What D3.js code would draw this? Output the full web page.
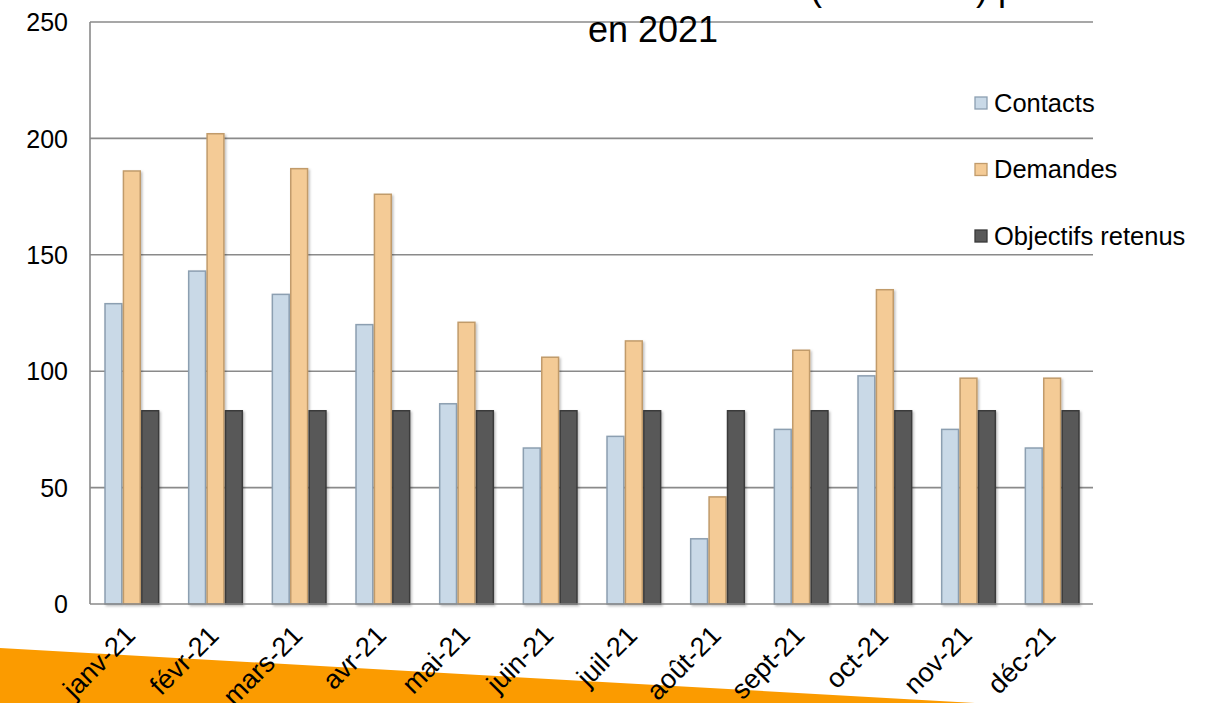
<!DOCTYPE html>
<html><head><meta charset="utf-8">
<script src="https://cdn.jsdelivr.net/npm/d3@7/dist/d3.min.js"></script>
<style>
html,body{margin:0;padding:0;background:#fff;}
svg{display:block;font-family:Arial,"Liberation Sans",sans-serif;}
</style></head>
<body>
<svg id="chart" width="1218" height="703"></svg>
<script>
const months = ["janv-21","févr-21","mars-21","avr-21","mai-21","juin-21","juil-21","août-21","sept-21","oct-21","nov-21","déc-21"];
const seriesNames = ["Contacts","Demandes","Objectifs retenus"];
const contacts = [129,143,133,120,86,67,72,28,75,98,75,67];
const demandes = [186,202,187,176,121,106,113,46,109,135,97,97];
const objectifs = [83,83,83,83,83,83,83,83,83,83,83,83];
const yTicks = [0,50,100,150,200,250];
const titleStart = "Evolution des contacts et demandes ";
const titleEnd = "(mensuels) par mois";
const titleLine2 = "en 2021";

const fills = ["#c9d9e7","#f4cb96","#595959"];
const strokes = ["#8c9fb1","#c19b6b","#3a3a3a"];

const svg = d3.select("#chart");
const defs = svg.append("defs");
const f = defs.append("filter").attr("id","sh").attr("x","-20%").attr("y","-5%").attr("width","150%").attr("height","115%");
f.append("feDropShadow").attr("dx",1.5).attr("dy",1.5).attr("stdDeviation",1.2).attr("flood-color","#000").attr("flood-opacity",0.25);

// orange decorative band
svg.append("path")
  .attr("d","M0,648 L975,703 L0,703 Z")
  .attr("fill","#fb9b00");

const L = 90, R = 1094, T = 22, B = 604;
const x = d3.scaleBand().domain(months).range([L,R]).paddingInner(0.34).paddingOuter(0.17);
const xi = d3.scaleBand().domain(seriesNames).range([0,x.bandwidth()]).padding(0);
const y = d3.scaleLinear().domain([0,250]).range([B,T]);

// gridlines
svg.append("g").selectAll("line").data(yTicks.filter(d=>d>0)).join("line")
  .attr("x1",L).attr("x2",R-1).attr("y1",d=>y(d)).attr("y2",d=>y(d))
  .attr("stroke","#8a8a8a").attr("stroke-width",1.6);

// y axis labels
const yAxis = d3.axisLeft(y).tickValues(yTicks).tickSize(0).tickPadding(22);
const ga = svg.append("g").attr("transform",`translate(${L},0)`).call(yAxis);
ga.select(".domain").remove();
ga.selectAll("text").attr("font-size",25).attr("fill","#000").attr("font-family","Arial, 'Liberation Sans', sans-serif").attr("dy","0.35em");

// bars
const data = months.map((m,i)=>({m, vals:[contacts[i],demandes[i],objectifs[i]]}));
const groups = svg.append("g").selectAll("g").data(data).join("g")
  .attr("transform",d=>`translate(${x(d.m)},0)`);
groups.selectAll("rect").data(d=>d.vals.map((v,k)=>({k,v}))).join("rect")
  .attr("x",d=>xi(seriesNames[d.k])+0.8)
  .attr("width",xi.bandwidth()-1.6)
  .attr("y",d=>y(d.v))
  .attr("height",d=>B-y(d.v))
  .attr("fill",d=>fills[d.k]).attr("stroke",d=>strokes[d.k]).attr("stroke-width",1.5)
  .attr("filter","url(#sh)");

// axis lines
svg.append("line").attr("x1",L).attr("x2",L).attr("y1",T).attr("y2",B).attr("stroke","#8a8a8a").attr("stroke-width",1.6);
svg.append("line").attr("x1",L).attr("x2",R-1).attr("y1",B).attr("y2",B).attr("stroke","#8a8a8a").attr("stroke-width",1.6);

// x labels
svg.append("g").selectAll("text").data(months).join("text")
  .attr("transform",d=>`translate(${x(d)+x.bandwidth()/2+5},637) rotate(-45)`)
  .attr("text-anchor","end").attr("font-size",27).attr("fill","#000")
  .text(d=>d);

// title (first line clipped at top edge)
svg.append("text").attr("x",810).attr("y",0).attr("text-anchor","end").attr("font-size",36).attr("fill","#000").text(titleStart);
svg.append("text").attr("x",810).attr("y",0).attr("text-anchor","start").attr("font-size",36).attr("fill","#000").text(titleEnd);
svg.append("text").attr("x",653).attr("y",42).attr("text-anchor","middle").attr("font-size",36).attr("fill","#000").text(titleLine2);

// legend
const lg = svg.append("g").selectAll("g").data(seriesNames).join("g")
  .attr("transform",(d,i)=>`translate(975,${103+i*66.5})`);
lg.append("rect").attr("x",0).attr("y",-6).attr("width",12).attr("height",12)
  .attr("fill",(d,i)=>fills[i]).attr("stroke",(d,i)=>strokes[i]).attr("stroke-width",1.3);
lg.append("text").attr("x",19).attr("y",0).attr("dy","0.35em").attr("font-size",25.5).attr("fill","#000").text(d=>d);
</script>
</body></html>
